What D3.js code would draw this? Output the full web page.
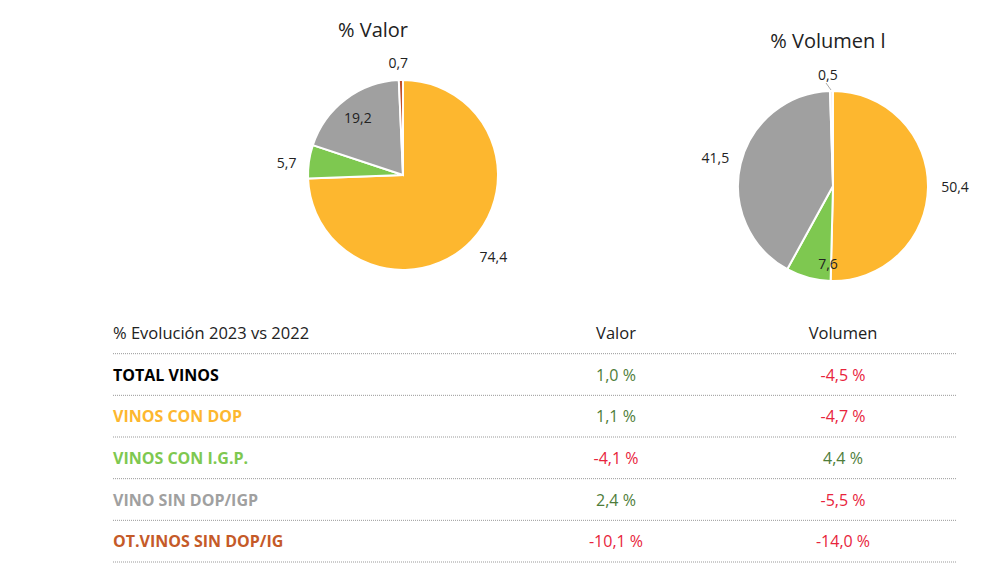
<!DOCTYPE html>
<meta charset="utf-8">
<script src="https://d3js.org/d3.v7.min.js"></script>
<style>
  body { margin: 0; background: #fff; }
  text { font-family: "Open Sans", sans-serif; }
</style>
<body>
<script>
  // categories and pie shares
  var categories = ["VINOS CON DOP", "VINOS CON I.G.P.", "VINO SIN DOP/IGP", "OT.VINOS SIN DOP/IG"];
  var valorShare = [74.4, 5.7, 19.2, 0.7];
  var volumenShare = [50.4, 7.6, 41.5, 0.5];

  // table rows
  var rowLabels = ["TOTAL VINOS", "VINOS CON DOP", "VINOS CON I.G.P.", "VINO SIN DOP/IGP", "OT.VINOS SIN DOP/IG"];
  var evolValor = [1.0, 1.1, -4.1, 2.4, -10.1];
  var evolVolumen = [-4.5, -4.7, 4.4, -5.5, -14.0];

  var sliceColors = ["#fdb72f", "#7ec850", "#a0a0a0", "#c0502a"];
  var sliceColorsVol = ["#fdb72f", "#7ec850", "#a0a0a0", "#f6ece8"];
  var labelColors = ["#000000", "#fdb72f", "#7ec850", "#a0a0a0", "#c55a28"];

  var svg = d3.select("body").append("svg")
    .attr("width", 1001)
    .attr("height", 584);

  var fmt = function (v) { return v.toFixed(1).replace(".", ","); };

  var pie = d3.pie().sort(null).value(function (d) { return d; });
  var arc = d3.arc().innerRadius(0).outerRadius(95);

  function drawPie(cx, cy, title, titleX, titleY, values, colors, labelPos) {
    var g = svg.append("g").attr("transform", "translate(" + cx + "," + cy + ")");
    var arcs = pie(values);
    g.selectAll("path")
      .data(arcs)
      .enter().append("path")
      .attr("d", arc)
      .attr("fill", function (d, i) { return colors[i]; })
      .attr("stroke", "#fff")
      .attr("stroke-width", 2);

    // labels: [radius, angle offset] per slice
    g.selectAll(".lbl")
      .data(arcs)
      .enter().append("text")
      .attr("class", "lbl")
      .attr("transform", function (d, i) {
        var a = (d.startAngle + d.endAngle) / 2 + labelPos[i][1];
        var r = labelPos[i][0];
        return "translate(" + (Math.sin(a) * r) + "," + (-Math.cos(a) * r) + ")";
      })
      .attr("text-anchor", "middle")
      .attr("dy", "0.35em")
      .style("font-size", "14px")
      .style("fill", "#222")
      .text(function (d) { return fmt(d.data); });

    svg.append("text")
      .attr("x", titleX)
      .attr("y", titleY)
      .attr("text-anchor", "middle")
      .style("font-size", "20px")
      .style("fill", "#222")
      .text(title);
    return g;
  }

  drawPie(403, 175, "% Valor", 373, 37, valorShare, sliceColors,
    [[122, -0.03], [117, -0.04], [73, -0.02], [112, -0.02]]);

  var gv = drawPie(833, 186, "% Volumen l", 828, 48, volumenShare, sliceColorsVol,
    [[122, 0], [78, -0.2], [121, 0], [111, -0.03]]);
  // leader line for the tiny slice
  gv.append("line")
    .attr("x1", -2).attr("y1", -96)
    .attr("x2", -7).attr("y2", -103)
    .attr("stroke", "#aaa").attr("stroke-width", 1);

  // table
  var xLeft = 113, xRight = 956, colValor = 616, colVol = 843;
  var y = d3.scaleBand().domain(d3.range(rowLabels.length + 1)).range([312, 562]);

  svg.append("text").attr("x", xLeft).attr("y", y(0) + 27)
    .style("font-size", "16.5px").style("fill", "#222").text("% Evolución 2023 vs 2022");
  svg.append("text").attr("x", colValor).attr("y", y(0) + 27).attr("text-anchor", "middle")
    .style("font-size", "16.5px").style("fill", "#222").text("Valor");
  svg.append("text").attr("x", colVol).attr("y", y(0) + 27).attr("text-anchor", "middle")
    .style("font-size", "16.5px").style("fill", "#222").text("Volumen");

  svg.selectAll(".sep")
    .data(d3.range(rowLabels.length + 1))
    .enter().append("line")
    .attr("x1", xLeft).attr("x2", xRight)
    .attr("y1", function (d) { return y(d) + y.bandwidth(); })
    .attr("y2", function (d) { return y(d) + y.bandwidth(); })
    .attr("stroke", "#999").attr("stroke-width", 1)
    .attr("stroke-dasharray", "1,1");

  var rows = svg.selectAll(".row")
    .data(rowLabels)
    .enter().append("g")
    .attr("transform", function (d, i) { return "translate(0," + (y(i + 1) + 27) + ")"; });

  rows.append("text")
    .attr("x", xLeft)
    .style("font-size", "16px")
    .style("font-weight", "bold")
    .style("fill", function (d, i) { return labelColors[i]; })
    .text(function (d) { return d; });

  var valColor = function (v) { return v < 0 ? "#e8243c" : "#4e7d3a"; };
  rows.append("text")
    .attr("x", colValor).attr("text-anchor", "middle")
    .style("font-size", "16px")
    .style("fill", function (d, i) { return valColor(evolValor[i]); })
    .text(function (d, i) { return fmt(evolValor[i]) + " %"; });
  rows.append("text")
    .attr("x", colVol).attr("text-anchor", "middle")
    .style("font-size", "16px")
    .style("fill", function (d, i) { return valColor(evolVolumen[i]); })
    .text(function (d, i) { return fmt(evolVolumen[i]) + " %"; });
</script>
</body>
